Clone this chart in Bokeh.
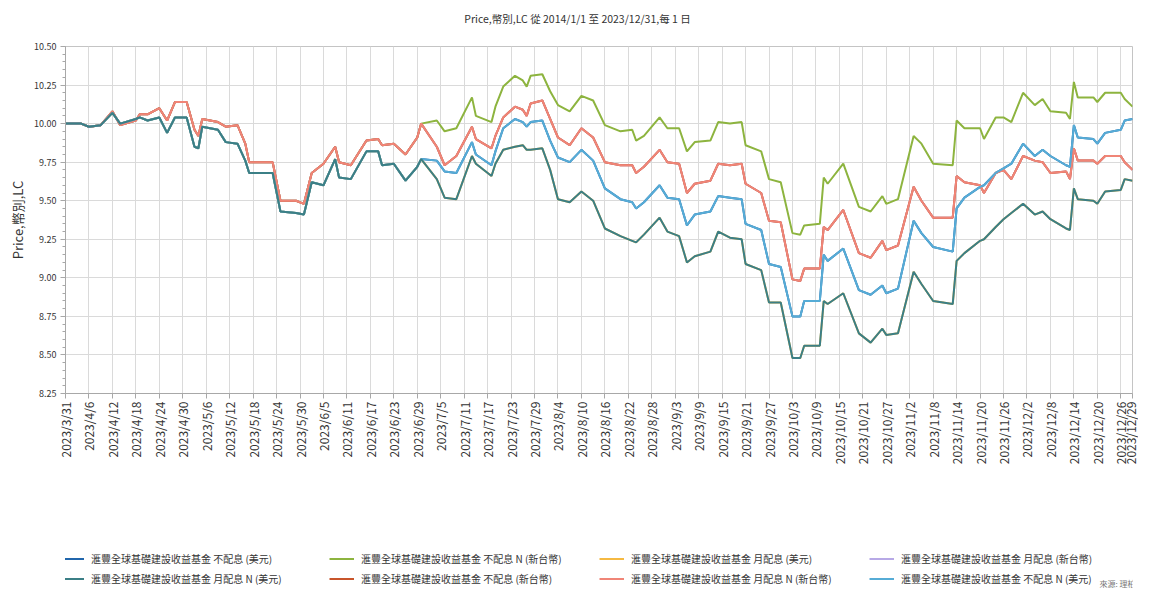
import pandas as pd
from bokeh.plotting import figure
from bokeh.layouts import column
from bokeh.models import (Range1d, FixedTicker, SingleIntervalTicker, Legend, LegendItem,
                          Label, PrintfTickFormatter, CustomJSTickFormatter)
from bokeh.embed import file_html
from bokeh.resources import INLINE

FONT = "Noto Sans CJK TC"

dates = [
    "2023-03-31", "2023-04-04", "2023-04-06", "2023-04-09", "2023-04-12", "2023-04-14",
    "2023-04-18", "2023-04-19", "2023-04-21", "2023-04-24", "2023-04-26", "2023-04-28",
    "2023-05-01", "2023-05-03", "2023-05-04", "2023-05-05", "2023-05-09", "2023-05-11",
    "2023-05-14", "2023-05-16", "2023-05-17", "2023-05-23", "2023-05-25", "2023-05-29",
    "2023-05-31", "2023-06-02", "2023-06-05", "2023-06-08", "2023-06-09", "2023-06-12",
    "2023-06-16", "2023-06-19", "2023-06-20", "2023-06-23", "2023-06-26", "2023-06-29",
    "2023-06-30", "2023-07-04", "2023-07-06", "2023-07-09", "2023-07-13", "2023-07-14",
    "2023-07-18", "2023-07-19", "2023-07-21", "2023-07-24", "2023-07-26", "2023-07-27",
    "2023-07-28", "2023-07-31", "2023-08-02", "2023-08-04", "2023-08-07", "2023-08-10",
    "2023-08-13", "2023-08-16", "2023-08-20", "2023-08-23", "2023-08-24", "2023-08-26",
    "2023-08-30", "2023-09-01", "2023-09-04", "2023-09-06", "2023-09-08", "2023-09-12",
    "2023-09-14", "2023-09-17", "2023-09-20", "2023-09-21", "2023-09-25", "2023-09-27",
    "2023-09-30", "2023-10-03", "2023-10-05", "2023-10-06", "2023-10-10", "2023-10-11",
    "2023-10-12", "2023-10-16", "2023-10-20", "2023-10-23", "2023-10-26", "2023-10-27",
    "2023-10-30", "2023-11-03", "2023-11-05", "2023-11-08", "2023-11-13", "2023-11-14",
    "2023-11-16", "2023-11-20", "2023-11-21", "2023-11-24", "2023-11-26", "2023-11-28",
    "2023-12-01", "2023-12-04", "2023-12-06", "2023-12-08", "2023-12-12", "2023-12-13",
    "2023-12-14", "2023-12-15", "2023-12-19", "2023-12-20", "2023-12-22", "2023-12-26",
    "2023-12-27", "2023-12-29",
]

# 不配息 N (新台幣) - green
ntd_acc_n = [
    10.00, 10.00, 9.98, 9.99, 10.08, 9.99,
    10.02, 10.06, 10.06, 10.10, 10.02, 10.14,
    10.14, 9.96, 9.92, 10.03, 10.01, 9.98,
    9.99, 9.87, 9.75, 9.75, 9.50, 9.50,
    9.48, 9.68, 9.74, 9.85, 9.75, 9.73,
    9.89, 9.90, 9.86, 9.87, 9.80, 9.91,
    10.00, 10.02, 9.95, 9.97, 10.17, 10.05,
    10.01, 10.11, 10.24, 10.31, 10.28, 10.24,
    10.31, 10.32, 10.21, 10.12, 10.08, 10.18,
    10.15, 9.99, 9.95, 9.96, 9.89, 9.92,
    10.04, 9.97, 9.97, 9.82, 9.88, 9.89,
    10.01, 10.00, 10.01, 9.86, 9.82, 9.64,
    9.62, 9.29, 9.28, 9.34, 9.35, 9.65,
    9.61, 9.74, 9.46, 9.43, 9.53, 9.48,
    9.51, 9.92, 9.87, 9.74, 9.73, 10.02,
    9.97, 9.97, 9.90, 10.04, 10.04, 10.01,
    10.20, 10.12, 10.16, 10.08, 10.07, 10.03,
    10.27, 10.17, 10.17, 10.14, 10.20, 10.20,
    10.16, 10.11,
]

# 月配息 N (新台幣) - salmon
ntd_mdist_n = [
    10.00, 10.00, 9.98, 9.99, 10.08, 9.99,
    10.02, 10.06, 10.06, 10.10, 10.02, 10.14,
    10.14, 9.96, 9.92, 10.03, 10.01, 9.98,
    9.99, 9.87, 9.75, 9.75, 9.50, 9.50,
    9.48, 9.68, 9.74, 9.85, 9.75, 9.73,
    9.89, 9.90, 9.86, 9.87, 9.80, 9.91,
    10.00, 9.85, 9.73, 9.79, 9.98, 9.90,
    9.84, 9.92, 10.04, 10.11, 10.09, 10.05,
    10.13, 10.15, 10.03, 9.91, 9.86, 9.97,
    9.91, 9.75, 9.73, 9.73, 9.68, 9.72,
    9.83, 9.75, 9.74, 9.55, 9.61, 9.63,
    9.74, 9.73, 9.74, 9.61, 9.55, 9.37,
    9.36, 8.99, 8.98, 9.06, 9.06, 9.33,
    9.31, 9.44, 9.16, 9.13, 9.24, 9.18,
    9.21, 9.59, 9.50, 9.39, 9.39, 9.66,
    9.62, 9.60, 9.55, 9.68, 9.70, 9.64,
    9.79, 9.76, 9.75, 9.68, 9.69, 9.64,
    9.84, 9.76, 9.76, 9.74, 9.79, 9.79,
    9.75, 9.70,
]

# 不配息 N (美元) - light blue
usd_acc_n = [
    10.00, 10.00, 9.98, 9.99, 10.07, 10.00,
    10.03, 10.04, 10.02, 10.04, 9.94, 10.04,
    10.04, 9.85, 9.84, 9.98, 9.96, 9.88,
    9.87, 9.76, 9.68, 9.68, 9.43, 9.42,
    9.41, 9.62, 9.60, 9.77, 9.65, 9.64,
    9.82, 9.82, 9.73, 9.74, 9.63, 9.72,
    9.77, 9.76, 9.69, 9.68, 9.88, 9.80,
    9.73, 9.82, 9.97, 10.03, 10.01, 9.98,
    10.01, 10.02, 9.89, 9.78, 9.75, 9.83,
    9.76, 9.58, 9.51, 9.49, 9.45, 9.49,
    9.60, 9.52, 9.51, 9.34, 9.41, 9.43,
    9.53, 9.52, 9.51, 9.35, 9.31, 9.09,
    9.07, 8.75, 8.75, 8.85, 8.85, 9.15,
    9.11, 9.19, 8.92, 8.89, 8.95, 8.90,
    8.93, 9.37, 9.29, 9.20, 9.17, 9.45,
    9.52, 9.59, 9.60, 9.68, 9.71, 9.74,
    9.87, 9.79, 9.83, 9.79, 9.73, 9.72,
    9.99, 9.91, 9.90, 9.87, 9.94, 9.96,
    10.02, 10.03,
]

# 月配息 N (美元) - teal
usd_mdist_n = [
    10.00, 10.00, 9.98, 9.99, 10.07, 10.00,
    10.03, 10.04, 10.02, 10.04, 9.94, 10.04,
    10.04, 9.85, 9.84, 9.98, 9.96, 9.88,
    9.87, 9.76, 9.68, 9.68, 9.43, 9.42,
    9.41, 9.62, 9.60, 9.77, 9.65, 9.64,
    9.82, 9.82, 9.73, 9.74, 9.63, 9.72,
    9.77, 9.64, 9.52, 9.51, 9.79, 9.74,
    9.66, 9.74, 9.83, 9.85, 9.86, 9.83,
    9.83, 9.84, 9.70, 9.51, 9.49, 9.56,
    9.50, 9.32, 9.27, 9.24, 9.23, 9.28,
    9.39, 9.30, 9.27, 9.10, 9.14, 9.17,
    9.30, 9.26, 9.25, 9.09, 9.05, 8.84,
    8.84, 8.48, 8.48, 8.56, 8.56, 8.85,
    8.83, 8.90, 8.64, 8.58, 8.67, 8.63,
    8.64, 9.04, 8.96, 8.85, 8.83, 9.11,
    9.16, 9.24, 9.25, 9.33, 9.38, 9.42,
    9.48, 9.41, 9.43, 9.38, 9.32, 9.31,
    9.58, 9.51, 9.50, 9.48, 9.56, 9.57,
    9.64, 9.63,
]

# share classes whose line lies under another one
usd_acc = list(usd_acc_n)        # 不配息 (美元)
usd_mdist = list(usd_mdist_n)    # 月配息 (美元)
ntd_mdist = list(ntd_mdist_n)    # 月配息 (新台幣)
ntd_acc = list(ntd_mdist_n)      # 不配息 (新台幣)

tick_labels = [
    "2023/3/31", "2023/4/6", "2023/4/12", "2023/4/18", "2023/4/24", "2023/4/30",
    "2023/5/6", "2023/5/12", "2023/5/18", "2023/5/24", "2023/5/30", "2023/6/5",
    "2023/6/11", "2023/6/17", "2023/6/23", "2023/6/29", "2023/7/5", "2023/7/11",
    "2023/7/17", "2023/7/23", "2023/7/29", "2023/8/4", "2023/8/10", "2023/8/16",
    "2023/8/22", "2023/8/28", "2023/9/3", "2023/9/9", "2023/9/15", "2023/9/21",
    "2023/9/27", "2023/10/3", "2023/10/9", "2023/10/15", "2023/10/21", "2023/10/27",
    "2023/11/2", "2023/11/8", "2023/11/14", "2023/11/20", "2023/11/26", "2023/12/2",
    "2023/12/8", "2023/12/14", "2023/12/20", "2023/12/26", "2023/12/29",
]

NAME = "滙豐全球基礎建設收益基金"
series = [
    (NAME + " 不配息 (美元)", usd_acc, "#2166ac"),
    (NAME + " 不配息 N (新台幣)", ntd_acc_n, "#8db43f"),
    (NAME + " 月配息 (美元)", usd_mdist, "#f5b942"),
    (NAME + " 月配息 (新台幣)", ntd_mdist, "#b7a9e6"),
    (NAME + " 月配息 N (美元)", usd_mdist_n, "#3b7f86"),
    (NAME + " 不配息 (新台幣)", ntd_acc, "#c8552b"),
    (NAME + " 月配息 N (新台幣)", ntd_mdist_n, "#f08577"),
    (NAME + " 不配息 N (美元)", usd_acc_n, "#56acd6"),
]
draw_order = [0, 1, 2, 3, 5, 6, 7, 4]

TITLE = "Price,幣別,LC 從 2014/1/1 至 2023/12/31,每 1 日"
SOURCE = "來源: 理柏"

x = pd.to_datetime(dates)
tick_ms = [pd.to_datetime(s, format="%Y/%m/%d").value / 1e6 for s in tick_labels]

FRAME_LEFT = 65  # the column aligns every child's frame with the chart's frame


def blank_figure(h):
    f = figure(width=1138, height=h, output_backend="svg", toolbar_location=None,
               x_range=Range1d(0, 1), y_range=Range1d(0, 1),
               x_axis_location=None, y_axis_location=None,
               min_border=0)
    f.grid.visible = False
    f.outline_line_color = None
    f.background_fill_color = "white"
    f.border_fill_color = "white"
    return f


# ---- title strip
tf = blank_figure(30)
tf.add_layout(Label(x=577 - FRAME_LEFT, y=12, x_units="screen", y_units="screen", text=TITLE,
                    text_align="center", text_baseline="middle", text_font=FONT,
                    text_font_size="10.5px", text_color="#333333"))

# ---- main chart
p = figure(width=1138, height=450, output_backend="svg", toolbar_location=None,
           x_axis_type="datetime",
           x_range=Range1d(pd.Timestamp("2023-03-31"), pd.Timestamp("2023-12-29")),
           y_range=Range1d(8.25, 10.50),
           min_border_left=FRAME_LEFT, min_border_right=6, min_border_top=16,
           min_border_bottom=87)

for i in draw_order:
    label, vals, color = series[i]
    p.line(x, vals, line_color=color, line_width=2)

xa = p.xaxis[0]
xa.ticker = FixedTicker(ticks=tick_ms)
xa.formatter = CustomJSTickFormatter(code="""
const d = new Date(tick);
return d.getUTCFullYear() + "/" + (d.getUTCMonth() + 1) + "/" + d.getUTCDate();
""")
xa.major_label_orientation = 3.14159265 / 2
xa.major_label_text_font = FONT
xa.major_label_text_font_size = "12px"
xa.major_label_text_color = "#333333"
xa.major_label_standoff = 3
xa.axis_line_color = "#a8a8a8"
xa.major_tick_line_color = "#a8a8a8"
xa.major_tick_out = 5
xa.major_tick_in = 0
xa.minor_tick_line_color = None

ya = p.yaxis[0]
ya.ticker = SingleIntervalTicker(interval=0.25, num_minor_ticks=5)
ya.formatter = PrintfTickFormatter(format="%.2f")
ya.major_label_text_font = FONT
ya.major_label_text_font_size = "9px"
ya.major_label_text_color = "#333333"
ya.major_label_standoff = 4
ya.axis_line_color = "#a8a8a8"
ya.major_tick_line_color = "#a8a8a8"
ya.minor_tick_line_color = "#a8a8a8"
ya.major_tick_out = 5
ya.major_tick_in = 0
ya.minor_tick_out = 3
ya.minor_tick_in = 0
ya.axis_label = "Price,幣別,LC"
ya.axis_label_text_font = FONT
ya.axis_label_text_font_size = "13px"
ya.axis_label_text_font_style = "normal"
ya.axis_label_text_color = "#333333"
ya.axis_label_standoff = 4

p.xgrid.ticker = FixedTicker(ticks=tick_ms)
p.xgrid.grid_line_color = "#dadada"
p.ygrid.grid_line_color = "#dadada"
p.outline_line_color = "#c4c4c4"
p.background_fill_color = "white"
p.border_fill_color = "white"

# ---- legend strip: the same series, outside this strip's ranges, serve as legend keys
lf = blank_figure(108)
items = []
for label, vals, color in series:
    r = lf.line(x, vals, line_color=color, line_width=2)
    items.append(LegendItem(label=label, renderers=[r]))
legend = Legend(items=items, orientation="horizontal", ncols=4, location=(-6, 0),
                label_text_font=FONT, label_text_font_size="10px",
                label_text_color="#333333",
                glyph_width=25, glyph_height=19, label_height=19,
                label_standoff=7, label_width=237, spacing=1,
                padding=0, margin=0, border_line_alpha=0, background_fill_alpha=0)
lf.add_layout(legend, "center")
lf.add_layout(Label(x=1135 - FRAME_LEFT, y=5, x_units="screen", y_units="screen", text=SOURCE,
                    text_align="right", text_baseline="middle", text_font=FONT,
                    text_font_size="8px", text_color="#777777"))

layout = column(tf, p, lf, spacing=0)
open("out.html", "w").write(file_html(layout, INLINE))
